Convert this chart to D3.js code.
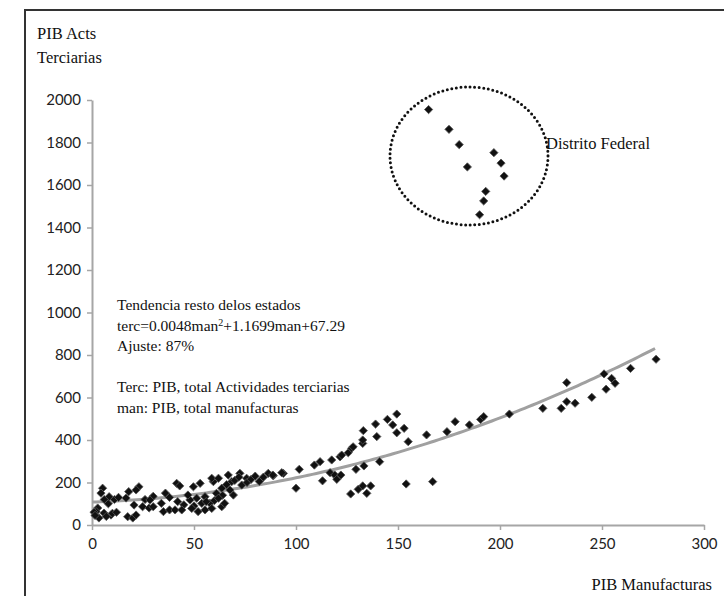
<!DOCTYPE html>
<meta charset="utf-8">
<head>
<script src="https://d3js.org/d3.v7.min.js"></script>
<style>
  html, body { margin: 0; background: #fff; overflow: hidden; }
  svg { display: block; }
  .serif { font-family: "Liberation Serif", "Times New Roman", serif; fill: #111; }
  .tick text { font-family: Lato, "Liberation Sans", sans-serif; font-size: 15px; fill: #222; }
</style>
</head>
<body>
<svg id="chart" width="724" height="596"></svg>

<script>
// Distrito Federal (circled)
var dfMan  = [165, 175, 180, 184, 197, 200.5, 202, 193, 192, 190];
var dfTerc = [1955, 1862, 1790, 1685, 1752, 1703, 1642, 1570, 1525, 1460];

// rest of the states
var restMan = [
  5.2, 4.4, 8.4, 2.8, 2, 5.9, 9.3, 3.4, 1, 1.5, 7, 10, 12, 8, 11, 13, 6,
  18, 23, 21.6, 16.7, 20.6, 24.8, 28, 17.5, 20, 21.6, 26, 30, 36, 38, 42, 45, 50,
  41.5, 43, 53, 49.7, 59.5, 58.7, 28.4, 30, 34, 35, 38, 40.7, 44, 48, 51.3, 53.8,
  55.4, 57.8, 61, 48.9, 52, 55.4, 58.7, 47, 56, 60, 64,
  62, 66.8, 72.5, 75.8, 68.5, 63.6, 67.6, 69.3, 62, 63.6, 65, 73.4, 66, 70, 72, 76, 78, 80, 82, 84,
  86.4, 88.9, 93.8, 88.6, 93, 101.6, 100, 109, 111.8, 113, 117.5, 116.7, 119, 120, 122,
  121.6, 122.4, 125.6, 127.3, 128, 129.4, 133.3, 126.8, 130.5, 132.7, 134.7, 136.6,
  132.7, 132.7, 133, 139, 139.6, 141, 144.8, 147.4, 149.4, 149.4, 153, 155, 154,
  164, 167, 174, 178, 185, 190.5, 192, 204.6, 221, 230, 232.7, 232.7, 236.8, 245,
  252, 251, 254.7, 256.4, 264, 276.5
];
var restTerc = [
  173, 150, 133, 80, 63, 56, 47, 33, 60, 45, 40, 55, 60, 100, 120, 130, 120,
  157, 180, 165, 127, 94, 86, 80, 39, 33, 47, 120, 135, 150, 130, 110, 95, 90,
  196, 184, 196, 180, 204, 220, 118, 86, 102, 63, 71, 71, 71, 118, 126, 102,
  133, 102, 149, 78, 63, 71, 78, 141, 110, 115, 140,
  220, 235, 243, 220, 204, 173, 165, 141, 126, 86, 102, 188, 190, 210, 225, 200, 215, 230, 205, 225,
  243, 232, 243, 235, 246, 262, 173, 282, 298, 208, 306, 246, 235, 215, 235,
  321, 329, 340, 361, 368, 262, 278, 146, 168, 184, 149, 184,
  384, 400, 444, 475, 416, 298, 497, 471, 522, 434, 455, 392, 193,
  424, 204, 439, 486, 471, 497, 510, 522, 549, 549, 580, 670, 573, 601,
  639, 711, 690, 667, 737, 780
];

// trend curve as drawn (terc = a + b*man + c*man^2), up to man = 276
var trendCoef = [108, 0.3, 0.0084];
var trendEnd = 276;

var xTicks = [0, 50, 100, 150, 200, 250, 300];
var yTicks = [0, 200, 400, 600, 800, 1000, 1200, 1400, 1600, 1800, 2000];

var noteLines = [
  "Tendencia resto delos estados",
  "terc=0.0048man",
  "Ajuste: 87%",
  "",
  "Terc: PIB, total Actividades terciarias",
  "man: PIB, total manufacturas"
];

var svg = d3.select("#chart");

var x = d3.scaleLinear().domain([0, 300]).range([92, 704]);
var y = d3.scaleLinear().domain([0, 2000]).range([525, 100]);

// outer frame: only its left and top sides fall inside the picture
svg.append("path")
  .attr("d", "M25,600V10H724")
  .attr("fill", "none")
  .attr("stroke", "#333")
  .attr("stroke-width", 2);

// axes
var xAxis = svg.append("g")
  .attr("transform", "translate(0," + y(0) + ")")
  .call(d3.axisBottom(x).tickValues(xTicks).tickSize(5).tickPadding(8).tickSizeOuter(0));
var yAxis = svg.append("g")
  .attr("transform", "translate(" + x(0) + ",0)")
  .call(d3.axisLeft(y).tickValues(yTicks).tickFormat(d3.format("d"))
    .tickSize(5).tickPadding(6).tickSizeOuter(0));

[xAxis, yAxis].forEach(function(g) {
  g.select(".domain").attr("stroke", "#a6a6a6").attr("stroke-width", 2);
  g.selectAll(".tick line").attr("stroke", "#a6a6a6").attr("stroke-width", 1.5);
});

// trend line
var trend = d3.range(0, trendEnd + 0.1, 2).map(function(m) {
  return [m, trendCoef[0] + trendCoef[1] * m + trendCoef[2] * m * m];
});
svg.append("path")
  .datum(trend)
  .attr("fill", "none")
  .attr("stroke", "#a0a0a0")
  .attr("stroke-width", 3)
  .attr("d", d3.line().x(function(d) { return x(d[0]); }).y(function(d) { return y(d[1]); }));

// points
var diamond = d3.symbol().type(d3.symbolSquare).size(34);
var pts = restMan.map(function(m, i) { return [m, restTerc[i]]; })
  .concat(dfMan.map(function(m, i) { return [m, dfTerc[i]]; }));

svg.append("g")
  .selectAll("path")
  .data(pts)
  .enter()
  .append("path")
    .attr("d", diamond)
    .attr("transform", function(d) { return "translate(" + x(d[0]) + "," + y(d[1]) + ") rotate(45)"; })
    .attr("fill", "#111")
    .attr("stroke", "#555")
    .attr("stroke-width", 0.8);

// dotted circle round the Distrito Federal
svg.append("ellipse")
  .attr("cx", 469).attr("cy", 156)
  .attr("rx", 79).attr("ry", 69)
  .attr("fill", "none")
  .attr("stroke", "#111")
  .attr("stroke-width", 3)
  .attr("stroke-linecap", "round")
  .attr("stroke-dasharray", "0,4.6");

svg.append("text").attr("class", "serif")
  .attr("x", 546).attr("y", 149)
  .style("font-size", "16.5px")
  .text("Distrito Federal");

// axis titles
svg.append("text").attr("class", "serif")
  .attr("x", 37).attr("y", 39).style("font-size", "16.5px").text("PIB Acts");
svg.append("text").attr("class", "serif")
  .attr("x", 37).attr("y", 63).style("font-size", "16.5px").text("Terciarias");
svg.append("text").attr("class", "serif")
  .attr("x", 712).attr("y", 590).attr("text-anchor", "end")
  .style("font-size", "16.5px").text("PIB Manufacturas");

// note block
var note = svg.append("g").attr("class", "serif").style("font-size", "15.5px");
noteLines.forEach(function(s, i) {
  var t = note.append("text").attr("x", 117).attr("y", 310 + i * 20.6).text(s);
  if (i == 1) {
    t.append("tspan").attr("dy", -5).style("font-size", "10px").text("2");
    t.append("tspan").attr("dy", 5).text("+1.1699man+67.29");
  }
});
</script>
</body>
